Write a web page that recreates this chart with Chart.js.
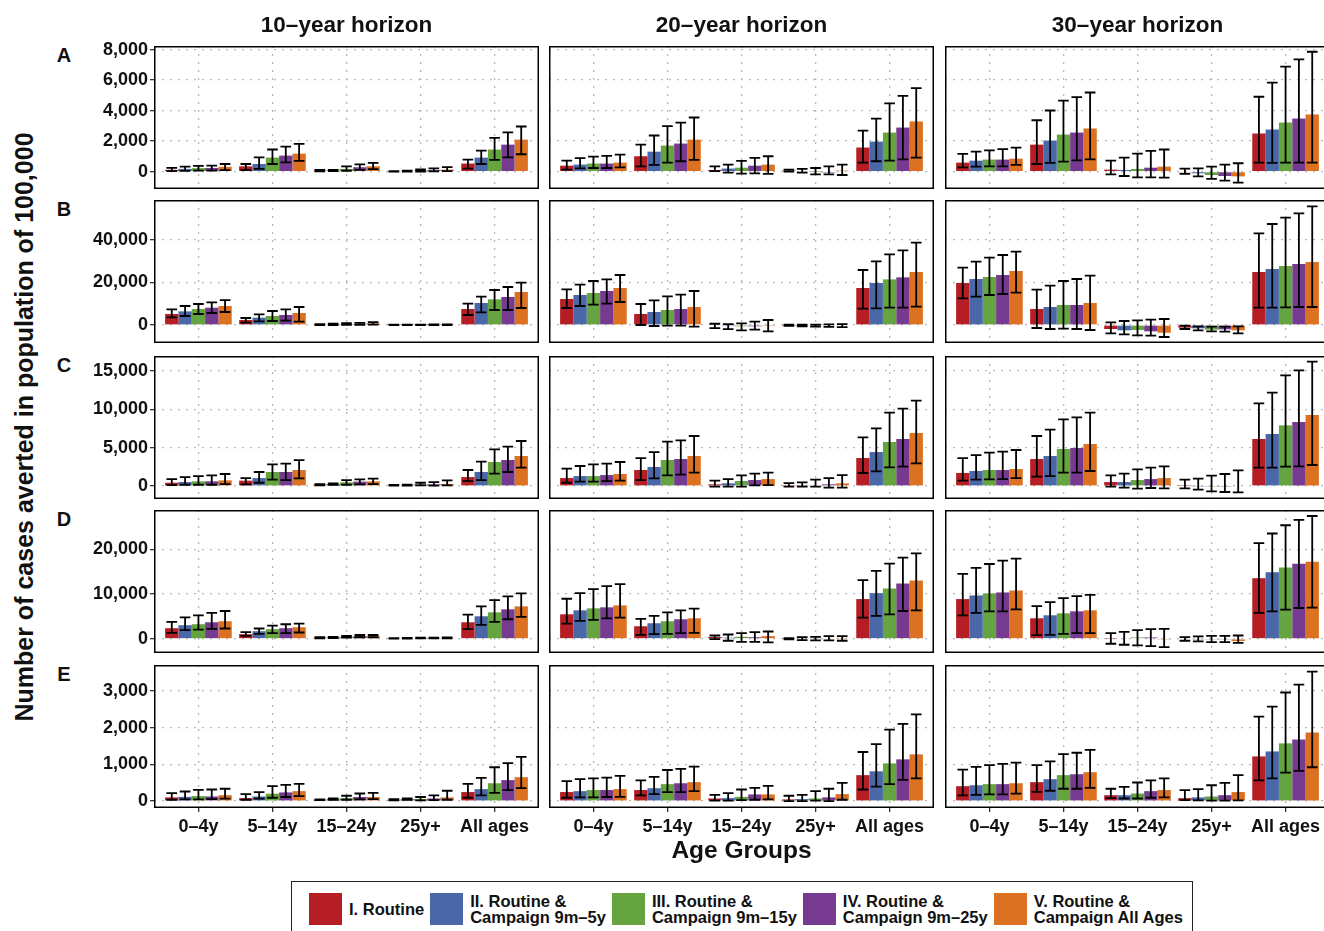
<!DOCTYPE html>
<html>
<head>
<meta charset="utf-8">
<script src="https://cdn.jsdelivr.net/npm/chart.js@4.4.1/dist/chart.umd.min.js"></script>
<style>
  body { margin: 0; width: 1324px; height: 931px; overflow: hidden; background: #fff; position: relative;
         font-family: "Liberation Sans", Arial, Helvetica, sans-serif; font-weight: bold; color: #111; }
  canvas { position: absolute; }
  .t { position: absolute; white-space: nowrap; line-height: 1; }
  #legend { position: absolute; left: 291px; top: 881px; width: 902px; height: 60px; box-sizing: border-box;
            border: 1px solid #222; display: flex; align-items: flex-start; padding: 11px 0 0 17px;
            font-size: 16.5px; line-height: 16px; }
  .item { display: flex; align-items: center; margin-right: 6px; }
  .key { width: 33px; height: 32px; margin-right: 7px; }
</style>
</head>
<body>
<div id="legend"></div>
<script>
const ageGroups = ["0–4y", "5–14y", "15–24y", "25y+", "All ages"];
const horizons = ["10–year horizon", "20–year horizon", "30–year horizon"];
const rowLetters = ["A", "B", "C", "D", "E"];
const strategies = [["I. Routine"], ["II. Routine &", "Campaign 9m–5y"], ["III. Routine &", "Campaign 9m–15y"],
                    ["IV. Routine &", "Campaign 9m–25y"], ["V. Routine &", "Campaign All Ages"]];
const strategyColors = ["#b41e24", "#4a68a8", "#65a43f", "#763a91", "#dc7121"];

// y tick labels per row
const ticksA = [0, 2000, 4000, 6000, 8000];
const ticksB = [0, 20000, 40000];
const ticksC = [0, 5000, 10000, 15000];
const ticksD = [0, 10000, 20000];
const ticksE = [0, 1000, 2000, 3000];

// each array: rows = strategies I..V, columns = age groups
const A10_mean = [[120, 350, 60, 20, 530], [180, 500, 70, 35, 920], [230, 920, 175, 70, 1450], [240, 1050, 290, 100, 1770], [320, 1180, 350, 130, 2100]];
const A10_lo   = [[30, 100, 20, 5, 200], [50, 175, 30, 5, 500], [70, 500, 60, 10, 770], [70, 610, 110, 20, 940], [100, 700, 170, 30, 1140]];
const A10_hi   = [[250, 500, 110, 40, 790], [330, 940, 120, 70, 1380], [380, 1450, 350, 140, 2210], [400, 1640, 480, 210, 2580], [500, 1820, 570, 300, 2960]];
const A20_mean = [[390, 1010, 110, 65, 1580], [460, 1310, 200, 40, 1970], [530, 1710, 260, 10, 2560], [530, 1840, 390, -70, 2890], [590, 2100, 460, 65, 3290]];
const A20_lo   = [[130, 350, 40, 0, 590], [220, 440, -65, -65, 680], [240, 590, -130, -175, 720], [240, 680, -110, -175, 810], [285, 770, -150, -220, 920]];
const A20_hi   = [[720, 1770, 350, 130, 2690], [880, 2370, 460, 175, 3480], [990, 2980, 700, 240, 4470], [1030, 3220, 900, 350, 4970], [1120, 3550, 1010, 460, 5480]];
const A30_mean = [[590, 1770, 130, -30, 2500], [720, 2040, 110, -110, 2760], [790, 2430, 175, -220, 3220], [790, 2560, 260, -285, 3480], [850, 2830, 330, -310, 3750]];
const A30_lo   = [[285, 500, -175, -150, 590], [330, 570, -285, -310, 570], [350, 660, -370, -480, 590], [350, 745, -370, -590, 590], [440, 810, -395, -720, 590]];
const A30_hi   = [[1160, 3370, 720, 200, 4910], [1310, 4010, 920, 220, 5830], [1400, 4660, 1180, 330, 6880], [1470, 4880, 1360, 460, 7360], [1580, 5190, 1450, 550, 7860]];

const B10_mean = [[5160, 2340, 200, 50, 7500], [6400, 3440, 300, 60, 10310], [7500, 4220, 500, 80, 12030], [8120, 4690, 600, 100, 13120], [8900, 5630, 800, 120, 15470]];
const B10_lo   = [[3590, 1090, 0, 0, 4690], [4220, 1720, 0, 0, 5940], [5160, 1880, 100, 0, 7030], [5630, 2030, 100, 0, 7030], [6100, 1560, 200, 0, 7970]];
const B10_hi   = [[7340, 3280, 400, 150, 10000], [8900, 5000, 600, 180, 13280], [9840, 6560, 900, 220, 16400], [10630, 7340, 1000, 260, 17810], [11700, 8440, 1400, 300, 19840]];
const B20_mean = [[12190, 5160, -300, -100, 17340], [14060, 6100, -500, -200, 19690], [15000, 7030, -600, -300, 21400], [15940, 7500, -600, -300, 22340], [17340, 8440, -500, -300, 24840]];
const B20_lo   = [[7970, 0, -1500, -400, 7660], [8900, -470, -1900, -600, 7810], [9530, -310, -2500, -800, 8120], [10000, -310, -2190, -900, 8120], [10780, -780, -2970, -1000, 8590]];
const B20_hi   = [[16720, 9840, 600, 200, 25780], [18900, 11560, 400, 200, 29840], [20620, 13440, 780, 200, 33120], [21400, 14220, 1560, 300, 35000], [23440, 15940, 2340, 400, 38590]];
const B30_mean = [[19690, 7500, -1880, -1250, 24840], [21560, 8440, -2500, -1560, 26250], [22500, 9380, -2340, -2190, 27660], [23440, 9380, -2970, -2030, 28590], [25310, 10310, -3590, -2500, 29530]];
const B30_lo   = [[12500, -1410, -3910, -1880, 8120], [13280, -1880, -4380, -2500, 8120], [14060, -1720, -4840, -2970, 8280], [14530, -1880, -5000, -3130, 8440], [15160, -2340, -5630, -3910, 8440]];
const B30_hi   = [[26870, 16560, 1250, -310, 42970], [29690, 18440, 1875, -630, 47340], [31560, 20620, 2190, -780, 50310], [32810, 21560, 2500, -780, 52340], [34380, 23120, 2810, -630, 55630]];

const C10_mean = [[430, 700, 170, 90, 1170], [520, 1040, 260, 130, 1830], [610, 1830, 480, 220, 3130], [610, 1830, 570, 220, 3390], [740, 2090, 610, 260, 3910]];
const C10_lo   = [[130, 220, 100, 50, 650], [170, 430, 150, 70, 780], [170, 830, 170, 90, 1610], [170, 780, 220, 40, 1830], [260, 1000, 260, 90, 2390]];
const C10_hi   = [[910, 1040, 250, 140, 2090], [1170, 1830, 350, 190, 3170], [1300, 2830, 780, 430, 4780], [1390, 2910, 870, 520, 5130], [1570, 3390, 960, 740, 5870]];
const C20_mean = [[1040, 2090, 220, 130, 3650], [1300, 2480, 350, 130, 4430], [1300, 3390, 650, 90, 5740], [1430, 3520, 780, 220, 6130], [1570, 3910, 910, 350, 6910]];
const C20_lo   = [[430, 780, -90, -90, 1700], [570, 1000, -90, -90, 1910], [570, 1390, -90, -90, 2430], [650, 1480, 90, -220, 2520], [700, 1740, 130, -220, 2960]];
const C20_hi   = [[2260, 3650, 700, 390, 6350], [2610, 4430, 910, 480, 7520], [2830, 5780, 1390, 830, 9570], [2910, 5960, 1610, 1040, 10090], [3130, 6520, 1740, 1430, 11130]];
const C30_mean = [[1700, 3520, 520, 30, 6130], [1960, 3910, 520, -50, 6780], [2090, 4830, 780, -40, 7910], [2090, 4960, 910, -40, 8350], [2220, 5480, 1040, 90, 9260]];
const C30_lo   = [[700, 1220, -90, -300, 2390], [830, 1300, -220, -480, 2390], [870, 1740, -350, -700, 2520], [910, 1740, -260, -780, 2570], [1040, 1960, -300, -830, 2740]];
const C30_hi   = [[3650, 6520, 1390, 830, 10780], [4040, 7350, 1610, 960, 12170], [4350, 8700, 2170, 1350, 14430], [4480, 8960, 2390, 1570, 15090], [4700, 9570, 2570, 2040, 16220]];

const D10_mean = [[2370, 1040, 220, 100, 3700], [3040, 1700, 300, 120, 5040], [3260, 2150, 440, 150, 5930], [3700, 2370, 590, 180, 6590], [3930, 2590, 590, 200, 7260]];
const D10_lo   = [[1330, 670, 100, 50, 2150], [1930, 1110, 150, 60, 3110], [2070, 1260, 250, 80, 3780], [2220, 1260, 350, 100, 4370], [2300, 1410, 350, 120, 4890]];
const D10_hi   = [[3780, 1480, 350, 150, 5410], [4810, 2300, 450, 180, 7260], [5260, 2960, 650, 230, 8670], [5780, 3260, 850, 260, 9480], [6220, 3410, 850, 300, 10150]];
const D20_mean = [[5480, 2810, 400, 100, 8890], [6370, 3480, 250, 100, 10220], [6810, 3930, 450, 100, 11260], [7040, 4370, 350, 150, 12370], [7480, 4590, 600, 200, 13040]];
const D20_lo   = [[3410, 890, -70, -150, 4740], [4000, 1040, -440, -300, 5110], [4220, 1110, -670, -370, 5480], [4590, 1260, -670, -370, 6220], [4740, 1330, -810, -440, 6370]];
const D20_hi   = [[8960, 4440, 740, 150, 13110], [10220, 5110, 960, 370, 15190], [11110, 5930, 1260, 440, 16810], [11780, 6370, 1480, 590, 18150], [12220, 6740, 1630, 590, 19110]];
const D30_mean = [[8890, 4590, 70, 0, 13560], [9700, 5260, 0, -100, 14890], [10150, 5700, 300, -200, 15930], [10370, 6150, 300, -200, 16810], [10810, 6370, -200, -500, 17260]];
const D30_lo   = [[5260, 810, -1110, -440, 5780], [5780, 890, -1330, -590, 6150], [6150, 1110, -1480, -740, 6520], [6150, 1260, -1630, -740, 6890], [6590, 1260, -1850, -890, 6960]];
const D30_hi   = [[14520, 7330, 1260, 370, 21410], [15850, 8220, 1560, 520, 23560], [16740, 9110, 1930, 670, 25410], [17480, 9560, 2150, 670, 26590], [17930, 9850, 2220, 740, 27480]];

const E10_mean = [[100, 80, 35, 35, 245], [115, 125, 50, 50, 325], [135, 200, 80, 55, 485], [125, 235, 110, 70, 570], [160, 270, 110, 100, 650]];
const E10_lo   = [[35, 35, 25, 20, 90], [45, 65, 35, 30, 155], [45, 90, 35, 20, 225], [55, 110, 45, 25, 300], [65, 135, 55, 35, 350]];
const E10_hi   = [[215, 190, 45, 50, 470], [260, 245, 75, 70, 630], [305, 405, 145, 110, 920], [315, 440, 205, 155, 1035], [335, 470, 225, 280, 1200]];
const E20_mean = [[245, 300, 70, 45, 705], [270, 350, 80, 55, 810], [300, 460, 115, 70, 1025], [300, 485, 180, 100, 1135], [325, 515, 180, 190, 1270]];
const E20_lo   = [[90, 155, 10, 0, 315], [100, 190, 10, 0, 395], [100, 245, 25, 10, 460], [110, 245, 35, 0, 575], [115, 270, 45, 35, 620]];
const E20_hi   = [[540, 565, 170, 145, 1335], [595, 660, 215, 170, 1550], [620, 845, 315, 270, 1945], [640, 875, 360, 335, 2100], [685, 935, 415, 495, 2360]];
const E30_mean = [[405, 515, 160, 80, 1215], [430, 595, 160, 100, 1350], [460, 705, 205, 125, 1570], [460, 730, 270, 160, 1675], [485, 785, 300, 245, 1865]];
const E30_lo   = [[155, 250, 80, 25, 565], [170, 280, 70, 20, 620], [180, 335, 70, 10, 775], [180, 335, 90, 10, 820], [200, 360, 100, 20, 920]];
const E30_hi   = [[855, 980, 335, 300, 2300], [930, 1080, 385, 325, 2570], [980, 1280, 505, 430, 2955], [1010, 1315, 565, 495, 3170], [1045, 1395, 620, 705, 3520]];

const panels = [
  [[A10_mean, A10_lo, A10_hi], [A20_mean, A20_lo, A20_hi], [A30_mean, A30_lo, A30_hi]],
  [[B10_mean, B10_lo, B10_hi], [B20_mean, B20_lo, B20_hi], [B30_mean, B30_lo, B30_hi]],
  [[C10_mean, C10_lo, C10_hi], [C20_mean, C20_lo, C20_hi], [C30_mean, C30_lo, C30_hi]],
  [[D10_mean, D10_lo, D10_hi], [D20_mean, D20_lo, D20_hi], [D30_mean, D30_lo, D30_hi]],
  [[E10_mean, E10_lo, E10_hi], [E20_mean, E20_lo, E20_hi], [E30_mean, E30_lo, E30_hi]]
];
const rowTicks = [ticksA, ticksB, ticksC, ticksD, ticksE];
const rowRange = [[-1138, 8237], [-8431, 58595], [-1691, 16952], [-3178, 28822], [-189, 3703]];

// layout
const panelLeft = [154, 549, 945];
const panelTop = [46, 200, 356, 510, 665];
const panelW = 385, panelH = 143;
const yAxisW = 80, xAxisH = 36, padTop = 10;

Chart.defaults.font.family = '"Liberation Sans", Arial, Helvetica, sans-serif';
Chart.defaults.font.size = 18;
Chart.defaults.font.weight = 'bold';
Chart.defaults.color = '#111';

const errorBars = {
  id: 'errorBars',
  afterDatasetsDraw(chart) {
    const ctx = chart.ctx, ys = chart.scales.y;
    ctx.save();
    ctx.strokeStyle = '#000';
    ctx.lineWidth = 1.8;
    chart.data.datasets.forEach((ds, d) => {
      chart.getDatasetMeta(d).data.forEach((bar, i) => {
        const half = bar.width * 0.4;
        const y1 = ys.getPixelForValue(ds.lo[i]);
        const y2 = ys.getPixelForValue(ds.hi[i]);
        ctx.beginPath();
        ctx.moveTo(bar.x, y1); ctx.lineTo(bar.x, y2);
        ctx.moveTo(bar.x - half, y1); ctx.lineTo(bar.x + half, y1);
        ctx.moveTo(bar.x - half, y2); ctx.lineTo(bar.x + half, y2);
        ctx.stroke();
      });
    });
    ctx.restore();
  }
};

const panelBorder = {
  id: 'panelBorder',
  afterDraw(chart) {
    const a = chart.chartArea, ctx = chart.ctx;
    ctx.save();
    ctx.strokeStyle = '#000';
    ctx.lineWidth = 1.5;
    ctx.strokeRect(a.left + 0.75, a.top + 0.75, a.right - a.left - 1.5, a.bottom - a.top - 1.5);
    ctx.restore();
  }
};

function addText(txt, x, y, size, rotate) {
  const el = document.createElement('div');
  el.className = 't';
  el.textContent = txt;
  el.style.left = x + 'px';
  el.style.top = y + 'px';
  el.style.fontSize = size + 'px';
  el.style.transform = 'translate(-50%, -50%)' + (rotate ? ' rotate(-90deg)' : '');
  document.body.appendChild(el);
}

function makePanel(r, c) {
  const [mean, lo, hi] = panels[r][c];
  const yW = c === 0 ? yAxisW : 0;
  const xH = r === 4 ? xAxisH : 0;
  const cv = document.createElement('canvas');
  cv.width = panelW + yW;
  cv.height = panelH + xH + padTop;
  cv.style.left = (panelLeft[c] - yW) + 'px';
  cv.style.top = (panelTop[r] - padTop) + 'px';
  document.body.appendChild(cv);

  new Chart(cv, {
    type: 'bar',
    data: {
      datasets: strategies.map((s, k) => ({
        label: s.join(' '),
        data: mean[k].map((v, i) => ({ x: i + 1, y: v })),
        lo: lo[k],
        hi: hi[k],
        backgroundColor: strategyColors[k],
        borderWidth: 0
      }))
    },
    options: {
      responsive: false,
      animation: false,
      devicePixelRatio: 1,
      layout: { padding: { top: padTop, left: 0, right: 0, bottom: 0 } },
      categoryPercentage: 0.9,
      barPercentage: 1.0,
      plugins: { legend: { display: false }, tooltip: { enabled: false } },
      scales: {
        x: {
          type: 'linear',
          offset: false,
          min: 0.4, max: 5.6,
          afterBuildTicks: s => { s.ticks = ageGroups.map((g, i) => ({ value: i + 1 })); },
          afterFit: s => { s.height = xH; s.paddingLeft = 0; s.paddingRight = 0; },
          grid: { offset: false, color: '#b8b8b8', lineWidth: 1.3, drawTicks: r === 4, tickLength: 4,
                  tickColor: '#333', tickWidth: 1.3, tickBorderDash: [] },
          border: { display: false, dash: [2, 6] },
          ticks: { display: r === 4, padding: 4, autoSkip: false, maxRotation: 0, minRotation: 0,
                   callback: v => ageGroups[Math.round(v) - 1] }
        },
        y: {
          min: rowRange[r][0], max: rowRange[r][1],
          afterBuildTicks: s => { s.ticks = rowTicks[r].map(v => ({ value: v })); },
          afterFit: s => { s.width = yW; s.paddingTop = 0; s.paddingBottom = 0; },
          grid: { color: '#b8b8b8', lineWidth: 1.3, drawTicks: c === 0, tickLength: 4,
                  tickColor: '#333', tickWidth: 1.3, tickBorderDash: [] },
          border: { display: false, dash: [2, 6] },
          ticks: { display: c === 0, padding: 2, callback: v => v.toLocaleString('en-US') }
        }
      }
    },
    plugins: [errorBars, panelBorder]
  });
}

for (let r = 0; r < 5; r++) for (let c = 0; c < 3; c++) makePanel(r, c);

horizons.forEach((h, c) => addText(h, panelLeft[c] + panelW / 2, 25, 22.5));
rowLetters.forEach((l, r) => addText(l, 64, panelTop[r] + 9, 20));
addText('Number of cases averted in population of 100,000', 24, 427, 25, true);
addText('Age Groups', panelLeft[1] + panelW / 2, 850, 24.5);

const legend = document.getElementById('legend');
strategies.forEach((s, k) => {
  const item = document.createElement('div');
  item.className = 'item';
  const key = document.createElement('div');
  key.className = 'key';
  key.style.background = strategyColors[k];
  const lab = document.createElement('div');
  lab.innerHTML = s.join('<br>');
  item.appendChild(key);
  item.appendChild(lab);
  legend.appendChild(item);
});
</script>
</body>
</html>
